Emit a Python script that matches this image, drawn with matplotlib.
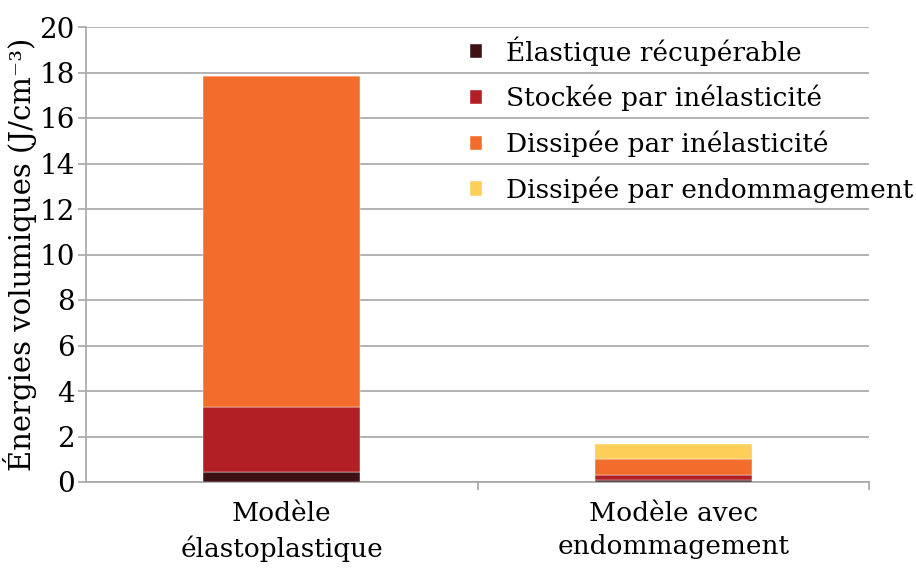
import numpy as np
import matplotlib
matplotlib.use('Agg')
import matplotlib.pyplot as plt

plt.rcParams['font.family'] = 'DejaVu Serif'

modeles = ['Modèle\nélastoplastique', 'Modèle avec\nendommagement']
composantes = ['Élastique récupérable', 'Stockée par inélasticité',
               'Dissipée par inélasticité', 'Dissipée par endommagement']
elastique = [0.44, 0.09]
stockee = [2.86, 0.22]
dissipee_inel = [14.55, 0.70]
dissipee_endo = [0.0, 0.66]
couleurs = ['#3d1214', '#b22025', '#f26d2b', '#fdcf58']

gris = '#a6a6a6'

fig = plt.figure(figsize=(9.16, 5.69), dpi=100)
ax = fig.add_axes([86/916, 1-482/569, (869-86)/916, (482-27)/569])

x = np.arange(len(modeles))
bas = np.zeros(len(modeles))
for serie, nom, c in zip([elastique, stockee, dissipee_inel, dissipee_endo], composantes, couleurs):
    ax.bar(x, serie, width=0.4, bottom=bas, color=c, label=nom,
           edgecolor='white', linewidth=0.3, zorder=3)
    bas = bas + np.array(serie)

ax.set_xlim(-0.5, 1.5)
ax.set_ylim(0, 20)
ax.set_yticks(np.arange(0, 21, 2))
ax.yaxis.grid(True, color=gris, linewidth=1.2, zorder=0)
ax.set_axisbelow(True)

ax.set_xticks([0, 1])
ax.set_xticklabels(modeles, fontsize=19, linespacing=1.4)
ax.set_xticks([0.5, 1.5], minor=True)
ax.tick_params(axis='x', which='major', length=0, pad=14)
ax.tick_params(axis='x', which='minor', length=6, color=gris, width=1.2)
ax.tick_params(axis='y', length=6, color=gris, width=1.2, labelsize=20, pad=2)

for s in ['top', 'right']:
    ax.spines[s].set_visible(False)
for s in ['left', 'bottom']:
    ax.spines[s].set_color(gris)
    ax.spines[s].set_linewidth(1.2)

ax.set_ylabel('Énergies volumiques (J/cm⁻³)', fontsize=21)
ax.yaxis.set_label_coords(-0.063, 0.5)

ax.legend(loc='upper left', bbox_to_anchor=(0.477, 1.003), frameon=False,
          fontsize=19, handlelength=0.45, handleheight=0.45, handletextpad=0.9,
          labelspacing=0.73, borderaxespad=0)

fig.savefig('out.png', dpi=100)
